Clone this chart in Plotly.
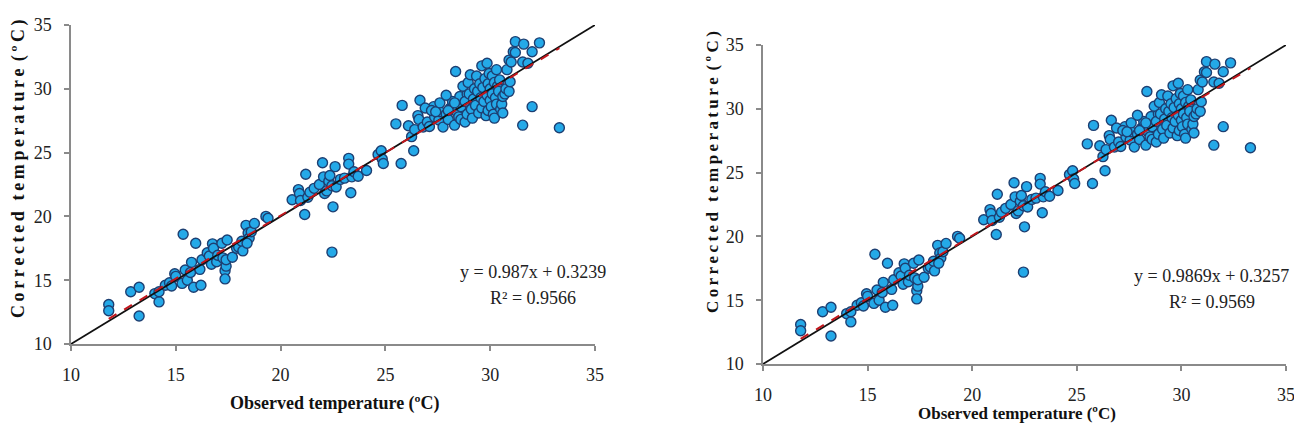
import plotly.graph_objects as go

# Observed (x) vs corrected (y) temperatures
observed = [
    11.8, 11.8, 12.85, 13.25, 13.25, 14.0, 14.2, 14.2, 14.5, 14.7, 14.8, 14.95, 15.0, 15.3, 15.35,
    15.45, 15.55, 15.75, 15.7, 15.85, 15.95, 16.15, 16.2, 16.25, 16.5, 16.6, 16.7, 16.75, 16.8, 16.95,
    17.0, 17.2, 17.25, 17.35, 17.35, 17.4, 17.45, 17.4, 17.7, 17.9, 18.0, 18.15, 18.2, 18.35, 18.45,
    18.5, 18.4, 18.6, 18.75, 19.3, 19.4,
    20.55, 20.85, 20.9, 20.95, 21.15, 21.2, 21.3, 21.4, 21.6, 21.85, 22.0, 22.05, 22.1, 22.2, 22.3,
    22.35, 22.5, 22.45, 22.45, 22.6, 22.65, 22.85, 23.05, 23.25, 23.25, 23.35, 23.4, 23.5, 23.7, 24.1,
    24.65, 24.8, 24.85, 24.9, 25.75,
    25.5, 25.8, 26.1, 26.25, 26.35, 26.4, 26.55, 26.65, 26.6, 26.8, 27.0, 27.1, 27.3, 27.35, 27.55,
    27.6, 27.75, 27.9, 28.0, 28.1, 28.2, 28.3, 28.35, 28.4, 28.5, 28.55, 28.6, 26.9, 27.2, 27.4,
    27.6, 27.9, 28.0, 28.3, 28.6, 28.9,
    28.7, 28.8, 28.8, 28.9, 28.95, 29.0, 29.05, 29.1, 29.15, 29.2, 29.25, 29.3, 29.35, 29.4, 29.45,
    29.5, 29.55, 29.6, 29.6, 29.65, 29.7, 29.75, 29.8, 29.85, 29.85, 29.9, 29.9, 29.95, 30.0, 30.0,
    30.05, 30.1, 30.1, 30.15, 30.2, 30.2, 30.25, 30.3, 30.3, 30.35, 30.4, 30.45, 30.5, 30.55, 30.6,
    30.6, 30.7, 30.75, 30.8, 30.9, 30.9, 30.95, 31.0, 31.1, 31.2, 31.2, 31.55, 31.55, 31.6, 31.8,
    32.0, 32.0, 32.35, 33.3,
]
corrected = [
    13.1, 12.6, 14.1, 14.45, 12.2, 13.95, 13.3, 14.1, 14.6, 14.8, 14.55, 15.5, 15.3, 14.75, 18.6,
    15.8, 15.0, 16.4, 15.6, 14.45, 17.9, 15.85, 14.6, 16.6, 17.15, 16.9, 16.25, 17.85, 17.5, 16.45,
    16.95, 17.9, 16.75, 15.75, 15.1, 16.1, 18.15, 16.6, 16.8, 17.5, 17.6, 18.05, 17.3, 19.3, 18.7,
    18.3, 17.9, 18.8, 19.45, 20.0, 19.85,
    21.3, 22.1, 21.8, 21.25, 20.15, 23.3, 21.5, 21.9, 22.2, 22.5, 24.2, 23.1, 21.8, 22.0, 22.75,
    23.2, 20.75, 22.4, 17.2, 23.9, 22.3, 22.9, 23.0, 24.55, 24.1, 21.85, 23.1, 23.5, 23.15, 23.6,
    24.85, 25.15, 24.5, 24.15, 24.15,
    27.25, 28.7, 27.1, 26.25, 25.15, 26.8, 27.9, 29.1, 27.6, 27.0, 27.4, 27.05, 28.6, 27.8, 27.55,
    28.2, 27.0, 28.0, 27.6, 28.5, 29.0, 27.15, 31.35, 28.2, 27.8, 29.4, 28.6, 28.5, 28.3, 28.2,
    28.9, 29.5, 28.3, 28.9, 27.6, 29.6,
    30.2, 27.4, 29.0, 28.0, 30.5, 29.6, 31.1, 28.4, 27.7, 29.2, 30.0, 28.7, 31.0, 29.8, 28.1,
    30.4, 29.3, 31.8, 28.5, 30.1, 29.0, 30.8, 27.9, 32.0, 29.5, 28.3, 30.4, 31.2, 29.1, 30.0,
    28.6, 31.0, 29.6, 28.0, 30.5, 27.7, 29.3, 31.5, 28.8, 30.2, 29.8, 30.7, 28.4, 28.8, 28.1,
    29.4, 29.6, 30.0, 31.5, 32.25, 29.8, 30.55, 32.1, 32.9, 33.7, 32.85, 32.1, 27.15, 33.5, 32.0,
    32.9, 28.6, 33.6, 26.95,
]

# Regression results printed on each panel
fit_left = {"slope": 0.987, "intercept": 0.3239, "r2": 0.9566}
fit_right = {"slope": 0.9869, "intercept": 0.3257, "r2": 0.9569}

axis_range = [10, 35]
tick_vals = [10, 15, 20, 25, 30, 35]

SERIF = "Liberation Serif"
AXIS_GREY = "#8a8a8a"
FILL = "#24a9e8"
EDGE = "#1d3f72"

# page has an 8px body margin: figure starts 8px in from the window corner
OFF = 8
W, H = 1302 - OFF, 435 - 2 * OFF

def px_x(p):
    return (p - OFF) / W

def px_y(p):
    return 1 - (p - OFF) / H

fig = go.Figure()

x_lo, x_hi = min(observed), max(observed)

for xa, ya, fit in (("x", "y", fit_left), ("x2", "y2", fit_right)):
    fig.add_trace(go.Scatter(
        x=observed, y=corrected, mode="markers", xaxis=xa, yaxis=ya,
        marker=dict(size=10, color=FILL, line=dict(color=EDGE, width=1.4)),
        showlegend=False, hoverinfo="skip"))
    # 1:1 line
    fig.add_trace(go.Scatter(
        x=axis_range, y=axis_range, mode="lines", xaxis=xa, yaxis=ya,
        line=dict(color="#111111", width=1.8), showlegend=False, hoverinfo="skip"))
    # fitted regression line
    fx = [x_lo, x_hi]
    fy = [fit["slope"] * v + fit["intercept"] for v in fx]
    fig.add_trace(go.Scatter(
        x=fx, y=fy, mode="lines", xaxis=xa, yaxis=ya,
        line=dict(color="#c0161c", width=2, dash="dash"), showlegend=False, hoverinfo="skip"))

def axis_style(domain, anchor):
    return dict(domain=domain, anchor=anchor, range=axis_range, tickvals=tick_vals,
                showgrid=False, zeroline=False, showline=True, linecolor=AXIS_GREY, linewidth=1.5,
                ticks="outside", ticklen=5, tickcolor=AXIS_GREY, tickwidth=1.5,
                ticklabelstandoff=9, automargin=False,
                tickfont=dict(family=SERIF, size=18, color="#222222"))

fig.update_layout(
    width=W, height=H, autosize=False,
    margin=dict(l=0, r=0, t=0, b=0, autoexpand=False),
    paper_bgcolor="white", plot_bgcolor="white",
    font=dict(family=SERIF),
    xaxis=axis_style([px_x(71), px_x(595)], "y"),
    yaxis=axis_style([px_y(344), px_y(25)], "x"),
    xaxis2=axis_style([px_x(763), px_x(1286)], "y2"),
    yaxis2=axis_style([px_y(364), px_y(45)], "x2"),
)

def spaced(text):
    return "\u2009".join(text)

ytitle = spaced("Corrected") + "\u2009\u2009\u2009" + spaced("temperature") + "\u2009\u2009" + spaced("(ºC)")
xtitle = "Observed temperature (ºC)"

annotations = [
    dict(text="<b>" + ytitle + "</b>", xref="paper", yref="paper", x=px_x(18), y=px_y(169), textangle=-90,
         showarrow=False, font=dict(family=SERIF, size=18, color="#111111"), xanchor="center", yanchor="middle"),
    dict(text="<b>" + ytitle + "</b>", xref="paper", yref="paper", x=px_x(712), y=px_y(172), textangle=-90,
         showarrow=False, font=dict(family=SERIF, size=17, color="#111111"), xanchor="center", yanchor="middle"),
    dict(text="<b>" + xtitle + "</b>", xref="paper", yref="paper", x=px_x(335), y=px_y(403),
         showarrow=False, font=dict(family=SERIF, size=18, color="#111111"), xanchor="center", yanchor="middle"),
    dict(text="<b>" + xtitle + "</b>", xref="paper", yref="paper", x=px_x(1017), y=px_y(413),
         showarrow=False, font=dict(family=SERIF, size=17, color="#111111"), xanchor="center", yanchor="middle"),
    dict(text=f"y = {fit_left['slope']}x + {fit_left['intercept']}", xref="x", yref="y", x=32.04, y=15.64,
         showarrow=False, font=dict(family=SERIF, size=18, color="#222222")),
    dict(text=f"R² = {fit_left['r2']}", xref="x", yref="y", x=32.04, y=13.6,
         showarrow=False, font=dict(family=SERIF, size=18, color="#222222")),
    dict(text=f"y = {fit_right['slope']}x + {fit_right['intercept']}", xref="x2", yref="y2", x=31.46, y=16.9,
         showarrow=False, font=dict(family=SERIF, size=18, color="#222222")),
    dict(text=f"R² = {fit_right['r2']}", xref="x2", yref="y2", x=31.46, y=14.86,
         showarrow=False, font=dict(family=SERIF, size=18, color="#222222")),
]
fig.update_layout(annotations=annotations)

fig.write_html("out.html")
